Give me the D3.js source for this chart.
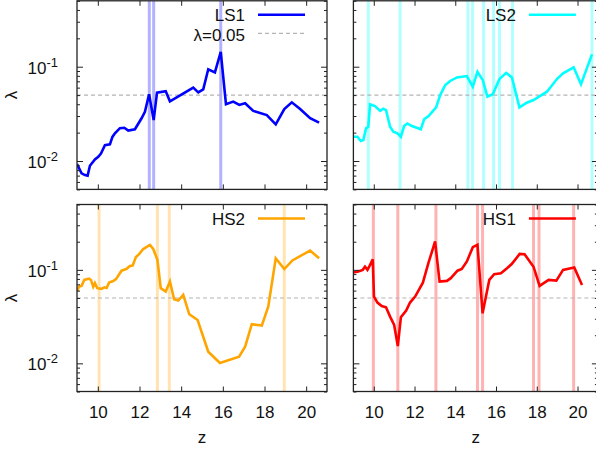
<!DOCTYPE html>
<html><head><meta charset="utf-8">
<script src="https://cdn.jsdelivr.net/npm/d3@7"></script>
<style>body{margin:0;background:#fff;overflow:hidden}text{font-family:"Liberation Sans",Arial,sans-serif}</style>
</head><body><svg id="c" width="596" height="451"></svg>
<script>
// ---------- data ----------
const ls1Z = [9.0, 9.22, 9.38, 9.51, 9.62, 9.86, 10.02, 10.15, 10.34, 10.58, 10.70, 10.82, 11.06, 11.27, 11.46, 11.78, 12.10, 12.26, 12.46, 12.68, 12.84, 13.26, 13.46, 14.58, 14.82, 15.06, 15.30, 15.62, 15.90, 16.15, 16.5, 16.79, 17.07, 17.46, 18.11, 18.54, 18.95, 19.31, 19.71, 20.19, 20.62];
const ls1Lambda = [0.0093, 0.0074, 0.0071, 0.0070, 0.0089, 0.0104, 0.0111, 0.012, 0.0147, 0.015, 0.018, 0.0197, 0.0223, 0.0225, 0.021, 0.0217, 0.0284, 0.0333, 0.051, 0.0272, 0.053, 0.055, 0.043, 0.060, 0.0535, 0.0575, 0.094, 0.087, 0.144, 0.040, 0.0427, 0.0393, 0.041, 0.034, 0.0307, 0.0245, 0.0356, 0.0419, 0.0356, 0.0284, 0.0255];
const ls1Bands = [12.47, 12.68, 15.90];

const ls2Z = [9.0, 9.2, 9.36, 9.49, 9.62, 9.73, 9.82, 10.06, 10.31, 10.47, 10.60, 10.80, 10.96, 11.16, 11.33, 11.49, 11.65, 11.87, 12.31, 12.47, 12.69, 13.06, 13.26, 13.51, 13.75, 14.08, 14.57, 14.86, 15.09, 15.35, 15.58, 15.84, 16.17, 16.50, 16.78, 17.15, 17.51, 17.84, 18.50, 18.99, 19.29, 19.81, 20.17, 20.71];
const ls2Lambda = [0.0181, 0.0181, 0.0163, 0.0167, 0.0222, 0.0231, 0.040, 0.0383, 0.034, 0.0359, 0.0347, 0.0231, 0.0205, 0.0197, 0.0181, 0.0235, 0.025, 0.0235, 0.0217, 0.0277, 0.030, 0.037, 0.050, 0.064, 0.0706, 0.077, 0.0796, 0.0614, 0.0885, 0.072, 0.048, 0.051, 0.074, 0.086, 0.077, 0.037, 0.0415, 0.0443, 0.0543, 0.074, 0.085, 0.0985, 0.065, 0.135];
const ls2Bands = [9.73, 11.29, 14.62, 14.85, 15.39, 15.88, 16.17, 16.81, 20.71];

const hs2Z = [9.0, 9.1, 9.22, 9.35, 9.58, 9.67, 9.78, 9.86, 9.97, 10.18, 10.31, 10.42, 10.54, 10.74, 10.87, 11.14, 11.38, 11.54, 11.67, 11.83, 11.99, 12.18, 12.50, 12.66, 12.86, 13.02, 13.26, 13.46, 13.66, 13.86, 14.10, 14.39, 14.79, 15.30, 15.86, 16.78, 17.07, 17.39, 17.87, 18.18, 18.54, 18.95, 19.34, 20.19, 20.62];
const hs2Lambda = [0.0586, 0.0662, 0.0674, 0.078, 0.0806, 0.078, 0.066, 0.072, 0.0637, 0.0626, 0.065, 0.064, 0.073, 0.076, 0.0795, 0.098, 0.1025, 0.110, 0.111, 0.137, 0.148, 0.167, 0.185, 0.167, 0.128, 0.0637, 0.0586, 0.075, 0.0486, 0.0469, 0.054, 0.0335, 0.0291, 0.0133, 0.0101, 0.0118, 0.0151, 0.0262, 0.0253, 0.0404, 0.133, 0.102, 0.126, 0.161, 0.133];
const hs2Bands = [10.06, 12.86, 13.43, 18.95];

const hs1Z = [9.0, 9.24, 9.46, 9.57, 9.69, 9.82, 9.95, 10.01, 10.18, 10.39, 10.60, 10.80, 11.0, 11.18, 11.33, 11.59, 11.78, 12.03, 12.41, 12.68, 13.01, 13.23, 13.59, 13.78, 14.11, 14.32, 14.57, 14.86, 15.09, 15.34, 15.67, 15.91, 16.24, 16.54, 16.78, 17.16, 17.40, 17.84, 18.14, 18.58, 18.96, 19.29, 19.84, 20.22];
const hs1Lambda = [0.0935, 0.096, 0.1, 0.108, 0.1, 0.113, 0.130, 0.0518, 0.0447, 0.041, 0.0398, 0.0316, 0.0257, 0.0153, 0.0311, 0.0366, 0.0447, 0.0518, 0.073, 0.118, 0.201, 0.075, 0.0762, 0.0815, 0.098, 0.102, 0.123, 0.175, 0.185, 0.0343, 0.078, 0.0899, 0.092, 0.104, 0.116, 0.148, 0.147, 0.108, 0.0674, 0.078, 0.0768, 0.1, 0.106, 0.069];
const hs1Bands = [9.98, 11.18, 13.05, 15.09, 15.34, 17.84, 18.11, 19.81];

const xTicks = [10, 12, 14, 16, 18, 20];
const yMajor = [0.01, 0.1];
const yMinor = [0.005, 0.006, 0.007, 0.008, 0.009, 0.02, 0.03, 0.04, 0.05, 0.06, 0.07, 0.08, 0.09, 0.2, 0.3, 0.4, 0.5];
const yTickLabels = [{v: 0.1, base: "10", exp: "-1"}, {v: 0.01, base: "10", exp: "-2"}];
const threshold = 0.05;
const thresholdLabel = "λ=0.05";
const zDomain = [9, 21];
const lamDomain = [0.005, 0.5];

// ---------- layout ----------
const panels = [
  {name: "LS1", z: ls1Z, lam: ls1Lambda, bands: ls1Bands, color: "#0000ff", x0: 77, x1: 327, y0: 0.8, y1: 189.4, showX: false, showY: true, thrLegend: true},
  {name: "LS2", z: ls2Z, lam: ls2Lambda, bands: ls2Bands, color: "#00ffff", x0: 353.4, x1: 597.9, y0: 0.8, y1: 189.4, showX: false, showY: false, thrLegend: false},
  {name: "HS2", z: hs2Z, lam: hs2Lambda, bands: hs2Bands, color: "#ffa500", x0: 77, x1: 327, y0: 204.5, y1: 391.5, showX: true, showY: true, thrLegend: false},
  {name: "HS1", z: hs1Z, lam: hs1Lambda, bands: hs1Bands, color: "#ff0000", x0: 353.4, x1: 597.9, y0: 204.5, y1: 391.5, showX: true, showY: false, thrLegend: false}
];

const svg = d3.select("#c");
const FONT = 17;
const frameColor = "#222";

panels.forEach((p, i) => {
  const x = d3.scaleLinear().domain(zDomain).range([p.x0, p.x1]);
  const y = d3.scaleLog().domain(lamDomain).range([p.y1, p.y0]);
  const g = svg.append("g");
  const clipId = "clip" + i;
  g.append("clipPath").attr("id", clipId).append("rect")
    .attr("x", p.x0).attr("y", p.y0).attr("width", p.x1 - p.x0).attr("height", p.y1 - p.y0);
  const plot = g.append("g").attr("clip-path", `url(#${clipId})`);

  // bands
  plot.selectAll("line.band").data(p.bands).join("line").attr("class", "band")
    .attr("x1", d => x(d)).attr("x2", d => x(d))
    .attr("y1", p.y0).attr("y2", p.y1)
    .attr("stroke", p.color).attr("stroke-opacity", 0.3).attr("stroke-width", 3);

  // threshold
  plot.append("line")
    .attr("x1", p.x0).attr("x2", p.x1).attr("y1", y(threshold)).attr("y2", y(threshold))
    .attr("stroke", "#b4b4b4").attr("stroke-width", 1.2).attr("stroke-dasharray", "4,3");

  // curve
  plot.append("path").datum(d3.zip(p.z, p.lam))
    .attr("d", d3.line().x(d => x(d[0])).y(d => y(d[1])))
    .attr("fill", "none").attr("stroke", p.color).attr("stroke-width", 2.6)
    .attr("stroke-linejoin", "miter");

  // ticks (inward)
  const tk = (axis, tr) => {
    const a = g.append("g").attr("transform", tr).call(axis);
    a.select(".domain").remove();
    a.selectAll("line").attr("stroke", frameColor).attr("stroke-width", 1);
    return a;
  };
  const xb = tk(d3.axisBottom(x).tickValues(xTicks).tickSize(-5).tickSizeOuter(0).tickPadding(14)
      .tickFormat(p.showX ? d3.format("d") : ""), `translate(0,${p.y1})`);
  xb.attr("font-size", FONT).attr("font-family", null);
  xb.selectAll("text").attr("fill", "#111");
  tk(d3.axisTop(x).tickValues(xTicks).tickSize(-5).tickSizeOuter(0).tickFormat(""), `translate(0,${p.y0})`);
  tk(d3.axisLeft(y).tickValues(yMajor).tickSize(-6).tickSizeOuter(0).tickFormat(""), `translate(${p.x0},0)`);
  tk(d3.axisLeft(y).tickValues(yMinor).tickSize(-3).tickSizeOuter(0).tickFormat(""), `translate(${p.x0},0)`);
  tk(d3.axisRight(y).tickValues(yMajor).tickSize(-6).tickSizeOuter(0).tickFormat(""), `translate(${p.x1},0)`);
  tk(d3.axisRight(y).tickValues(yMinor).tickSize(-3).tickSizeOuter(0).tickFormat(""), `translate(${p.x1},0)`);

  // frame
  g.append("rect").attr("x", p.x0).attr("y", p.y0).attr("width", p.x1 - p.x0).attr("height", p.y1 - p.y0)
    .attr("fill", "none").attr("stroke", frameColor).attr("stroke-width", 1.3);

  // y labels
  if (p.showY) {
    yTickLabels.forEach(t => {
      const tx = g.append("text").attr("x", p.x0 - 19).attr("y", y(t.v) + 7)
        .attr("text-anchor", "end").attr("font-size", FONT).attr("fill", "#111");
      tx.append("tspan").text(t.base);
      tx.append("tspan").attr("font-size", 13).attr("dy", -7).text(t.exp);
    });
    g.append("text").attr("transform", `translate(17,${(p.y0 + p.y1) / 2}) rotate(-90)`)
      .attr("text-anchor", "middle").attr("font-size", FONT).attr("fill", "#111").text("λ");
  }
  if (p.showX) {
    g.append("text").attr("x", (p.x0 + p.x1) / 2).attr("y", 443)
      .attr("text-anchor", "middle").attr("font-size", FONT).attr("fill", "#111").text("z");
  }

  // legend
  const lx = p.x1 - 82;
  g.append("text").attr("x", lx).attr("y", p.y0 + 20).attr("text-anchor", "end")
    .attr("font-size", FONT).attr("fill", "#111").text(p.name);
  g.append("line").attr("x1", p.x1 - 69).attr("x2", p.x1 - 22)
    .attr("y1", p.y0 + 14).attr("y2", p.y0 + 14)
    .attr("stroke", p.color).attr("stroke-width", 2.6);
  if (p.thrLegend) {
    g.append("text").attr("x", lx).attr("y", p.y0 + 40).attr("text-anchor", "end")
      .attr("font-size", FONT).attr("fill", "#111").text(thresholdLabel);
    g.append("line").attr("x1", p.x1 - 69).attr("x2", p.x1 - 22)
      .attr("y1", p.y0 + 32.5).attr("y2", p.y0 + 32.5)
      .attr("stroke", "#b4b4b4").attr("stroke-width", 1.2).attr("stroke-dasharray", "4,3");
  }
});
</script></body></html>
